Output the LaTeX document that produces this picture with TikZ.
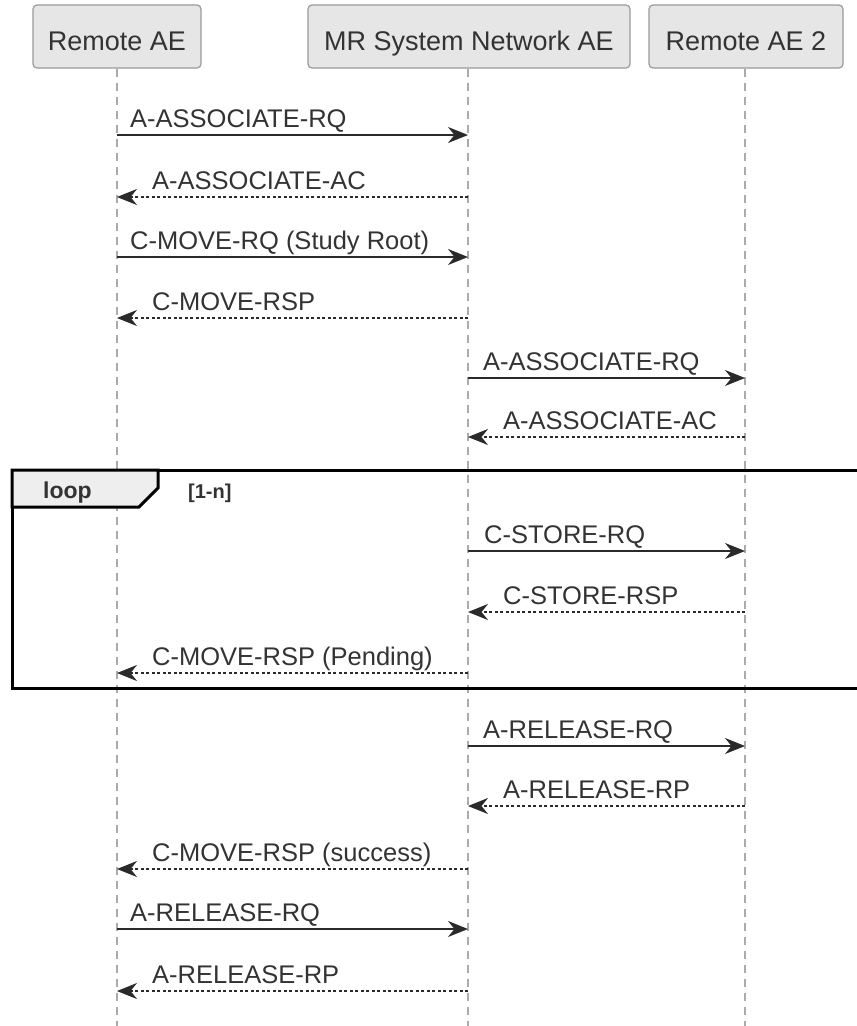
\documentclass[tikz,border=0pt]{standalone}
\usepackage{fontspec}
\setmainfont{Liberation Sans}
\usetikzlibrary{arrows.meta}
\definecolor{txt}{HTML}{333333}
\definecolor{boxfill}{HTML}{E6E6E6}
\definecolor{boxline}{HTML}{9A9A9A}
\definecolor{lifegray}{HTML}{ABABAB}
\definecolor{msgline}{HTML}{2A2A2A}
\definecolor{tabfill}{HTML}{EEEEEE}
\tikzset{
  participant/.style={draw=boxline, fill=boxfill, line width=1.2pt, rounded corners=4pt,
    minimum height=63pt, inner sep=0pt},
  ptext/.style={anchor=base, inner sep=0pt, text=txt, font=\fontsize{27}{32}\selectfont},
  lifeline/.style={draw=lifegray, line width=1.6pt, dash pattern=on 8pt off 6pt},
  tip/.style={-{Stealth[length=20pt,width=16pt,inset=6.5pt]}},
  reqmsg/.style={tip, draw=msgline, line width=1.4pt},
  rspmsg/.style={tip, draw=msgline, line width=1.2pt, dash pattern=on 3pt off 2.5pt},
  msglabel/.style={anchor=base west, inner sep=0pt, text=txt, font=\fontsize{25.5}{30}\selectfont},
  loopframe/.style={draw=black, line width=3pt},
}
\begin{document}
\begin{tikzpicture}[x=1pt,y=-1pt]
\useasboundingbox (0,0) rectangle (857,1026);
\fill[white] (0,0) rectangle (857,1026);
% participants
\node[participant, minimum width=168pt] (ae) at (117,36.5) {};
\node[participant, minimum width=322pt] (mr) at (469,36.5) {};
\node[participant, minimum width=194pt] (ae2) at (746,36.5) {};
\node[ptext] (aet) at (117,50) {Remote AE};
\node[ptext] (mrt) at (469,50) {MR System Network AE};
\node[ptext] (ae2t) at (746,50) {Remote AE 2};
% lifeline ends
\coordinate (aeEnd) at (117,1026);
\coordinate (mrEnd) at (468,1026);
\coordinate (ae2End) at (745,1026);
\draw[lifeline] (ae.south -| aeEnd) -- (aeEnd);
\draw[lifeline] (mr.south -| mrEnd) -- (mrEnd);
\draw[lifeline] (ae2.south -| ae2End) -- (ae2End);
% loop frame
\coordinate (loopTL) at (12,470);
\coordinate (loopBR) at (860,688);
\draw[loopframe] (loopTL) rectangle (loopBR);
\filldraw[fill=tabfill, draw=black, line width=3pt] (12,470) -- (158,470) -- (158,488) -- (139,507) -- (12,507) -- cycle;
\node[anchor=base west, inner sep=0pt, text=txt, font=\bfseries\fontsize{23}{28}\selectfont] (looplbl) at (43,498) {loop};
\node[anchor=base west, inner sep=0pt, text=txt, font=\bfseries\fontsize{20}{24}\selectfont] (loopcond) at (188,498) {[1-n]};
% messages
\draw[reqmsg] (aeEnd |- 0,135) -- (mrEnd |- 0,135);
\node[msglabel] (l1) at (130,127) {A-ASSOCIATE-RQ};
\draw[rspmsg] (mrEnd |- 0,197) -- (aeEnd |- 0,197);
\node[msglabel] (l2) at (152,189) {A-ASSOCIATE-AC};
\draw[reqmsg] (aeEnd |- 0,257) -- (mrEnd |- 0,257);
\node[msglabel] (l3) at (130,249) {C-MOVE-RQ (Study Root)};
\draw[rspmsg] (mrEnd |- 0,318) -- (aeEnd |- 0,318);
\node[msglabel] (l4) at (152,310) {C-MOVE-RSP};
\draw[reqmsg] (mrEnd |- 0,378) -- (ae2End |- 0,378);
\node[msglabel] (l5) at (483,370) {A-ASSOCIATE-RQ};
\draw[rspmsg] (ae2End |- 0,437) -- (mrEnd |- 0,437);
\node[msglabel] (l6) at (503,429) {A-ASSOCIATE-AC};
\draw[reqmsg] (mrEnd |- 0,551) -- (ae2End |- 0,551);
\node[msglabel] (l7) at (484,543) {C-STORE-RQ};
\draw[rspmsg] (ae2End |- 0,612) -- (mrEnd |- 0,612);
\node[msglabel] (l8) at (503,604) {C-STORE-RSP};
\draw[rspmsg] (mrEnd |- 0,673) -- (aeEnd |- 0,673);
\node[msglabel] (l9) at (152,665) {C-MOVE-RSP (Pending)};
\draw[reqmsg] (mrEnd |- 0,746) -- (ae2End |- 0,746);
\node[msglabel] (l10) at (483,738) {A-RELEASE-RQ};
\draw[rspmsg] (ae2End |- 0,806) -- (mrEnd |- 0,806);
\node[msglabel] (l11) at (503,798) {A-RELEASE-RP};
\draw[rspmsg] (mrEnd |- 0,869) -- (aeEnd |- 0,869);
\node[msglabel] (l12) at (152,861) {C-MOVE-RSP (success)};
\draw[reqmsg] (aeEnd |- 0,929) -- (mrEnd |- 0,929);
\node[msglabel] (l13) at (130,921) {A-RELEASE-RQ};
\draw[rspmsg] (mrEnd |- 0,991) -- (aeEnd |- 0,991);
\node[msglabel] (l14) at (152,983) {A-RELEASE-RP};
\end{tikzpicture}
\end{document}
